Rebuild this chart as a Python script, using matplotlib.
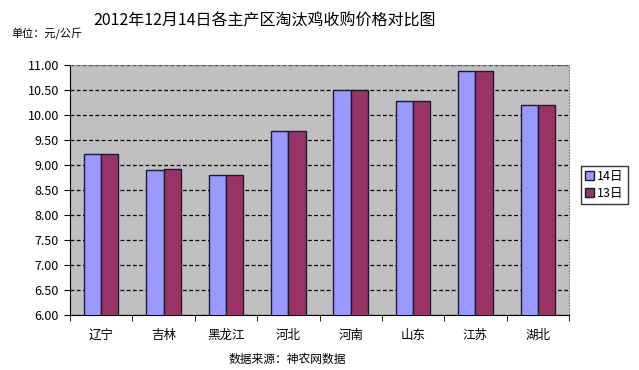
import matplotlib
matplotlib.use('Agg')
import matplotlib.pyplot as plt
import numpy as np
from matplotlib.ticker import FormatStrFormatter

plt.rcParams['font.family'] = ['Noto Sans CJK SC', 'DejaVu Sans']

# data
regions = ['辽宁', '吉林', '黑龙江', '河北', '河南', '山东', '江苏', '湖北']
price_14 = [9.23, 8.91, 8.81, 9.68, 10.50, 10.28, 10.88, 10.20]
price_13 = [9.23, 8.93, 8.81, 9.68, 10.50, 10.28, 10.88, 10.20]
series_names = ['14日', '13日']
yticks = np.arange(6.0, 11.01, 0.5)

fig = plt.figure(figsize=(6.39, 3.70), dpi=100)
ax = fig.add_axes([70/639, 55/370, 499/639, 250/370])
ax.set_facecolor('#C0C0C0')

x = np.arange(len(regions))
w = 0.277
ax.bar(x - w/2, price_14, w, color='#9999FF', edgecolor='#1a1a33', linewidth=1.0,
       label=series_names[0], zorder=3)
ax.bar(x + w/2, price_13, w, color='#993366', edgecolor='#1a1a33', linewidth=1.0,
       label=series_names[1], zorder=3)

ax.set_xlim(-0.5, len(regions) - 0.5)
ax.set_ylim(6.0, 11.0)
ax.set_yticks(yticks)
ax.yaxis.set_major_formatter(FormatStrFormatter('%.2f'))
ax.yaxis.grid(True, linestyle=(0, (3, 2)), color='black', linewidth=0.9, zorder=1)

ax.set_xticks(x)
ax.set_xticklabels(regions, fontsize=9)
ax.tick_params(axis='x', length=0, pad=10)
ax.set_xticks(np.arange(-0.5, len(regions), 1.0), minor=True)
ax.tick_params(axis='x', which='minor', length=4, direction='out', color='black')
ax.tick_params(axis='y', length=4, direction='out', labelsize=9, pad=4)

for s in ['top', 'right']:
    ax.spines[s].set_color('#808080')
    ax.spines[s].set_linestyle(':')
for s in ['left', 'bottom']:
    ax.spines[s].set_color('black')

fig.text(265/639, 1 - 21/370, '2012年12月14日各主产区淘汰鸡收购价格对比图', ha='center', va='center',
         fontsize=11.5)
fig.text(11/639, 1 - 34/370, '单位：元/公斤', ha='left', va='center', fontsize=8)
fig.text(287/639, 1 - 359/370, '数据来源：神农网数据', ha='center', va='center', fontsize=8.5)

ax.legend(loc='center left', bbox_to_anchor=(581/499 - 70/499, 0.5 + 5/250), frameon=True,
          fancybox=False, edgecolor='black', fontsize=9, handlelength=0.7, handleheight=0.7,
          handletextpad=0.3, borderpad=0.3, labelspacing=0.3, borderaxespad=0)

fig.savefig('out.png', dpi=100)
